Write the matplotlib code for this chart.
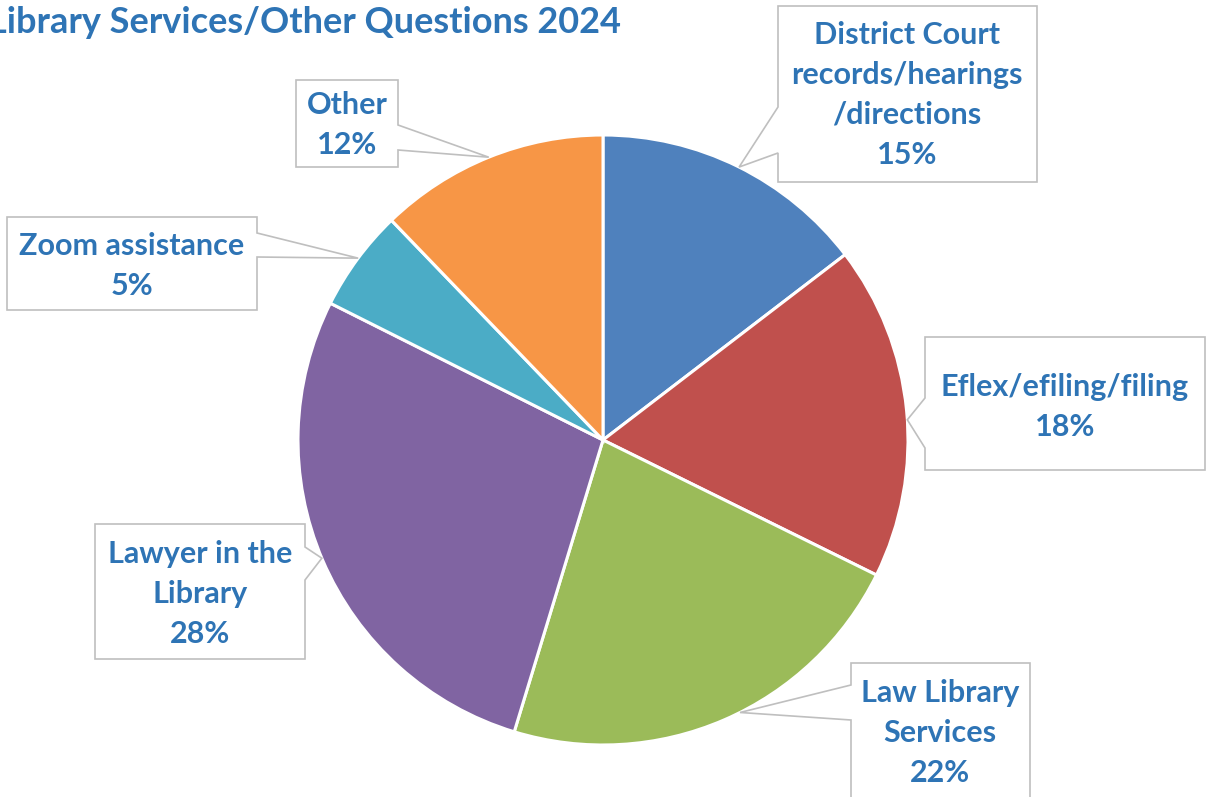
import numpy as np
import matplotlib
matplotlib.use('Agg')
import matplotlib.pyplot as plt
from matplotlib.patches import Polygon

plt.rcParams['font.family'] = ['Lato', 'DejaVu Sans']

# data
categories = ['District Court\nrecords/hearings\n/directions', 'Eflex/efiling/filing',
              'Law Library\nServices', 'Lawyer in the\nLibrary', 'Zoom assistance', 'Other']
values = [14.6, 17.7, 22.4, 27.7, 5.4, 12.2]
colors = ['#4F81BD', '#C0504D', '#9BBB59', '#8064A2', '#4BACC6', '#F79646']
title = 'Library Services/Other Questions 2024'

W, H = 1206, 797
cx, cy, R = 603, 440, 305   # image coords (y down)
txtcol = '#2E74B5'

# callout layout: box (x0, y0, x1, y1), side, pointer base (ya, yb), tip angle, text centre
callouts = [
    ((778, 6, 1037, 182), 'left', (107, 153), 63.5, (907, 95)),
    ((925, 337, 1205, 470), 'left', (398, 448), 3.8, (1065, 407)),
    ((851, 663, 1030, 815), 'left', (685, 720), -63.3, (940, 733)),
    ((95, 524, 305, 659), 'right', (547, 580), 202.8, (200, 594)),
    ((7, 217, 257, 310), 'right', (233, 257), 143.4, (132, 266)),
    ((296, 80, 398, 167), 'right', (125, 150), 112.0, (347, 125)),
]

def fy(y):
    return H - y

fig = plt.figure(figsize=(W / 100, H / 100), dpi=100)
ax = fig.add_axes([0, 0, 1, 1])
ax.pie(values, colors=colors, startangle=90, counterclock=False,
       center=(cx, fy(cy)), radius=R,
       wedgeprops=dict(edgecolor='white', linewidth=2.2))
ax.set_xlim(0, W)
ax.set_ylim(0, H)
ax.set_aspect('auto')
ax.axis('off')

total = sum(values)
for i, (box, side, base, ang, tc) in enumerate(callouts):
    x0, y0, x1, y1 = box
    ya, yb = base
    a = np.radians(ang)
    tip = (cx + R * np.cos(a), cy - R * np.sin(a))
    if side == 'left':
        pts = [(x0, y0), (x1, y0), (x1, y1), (x0, y1), (x0, yb), tip, (x0, ya)]
    else:
        pts = [(x0, y0), (x1, y0), (x1, ya), tip, (x1, yb), (x1, y1), (x0, y1)]
    pts = [(p[0], fy(p[1])) for p in pts]
    ax.add_patch(Polygon(pts, closed=True, facecolor='white', edgecolor='#BFBFBF',
                         linewidth=1.2, zorder=3))
    pct = round(values[i] / total * 100)
    ax.text(tc[0], fy(tc[1]), categories[i] + '\n' + f'{pct}%', ha='center', va='center',
            fontsize=22, fontweight='bold', color=txtcol, linespacing=1.52, zorder=4)

ax.text(621, fy(22), title, ha='right', va='center', fontsize=26,
        fontweight='bold', color=txtcol)

fig.savefig('out.png', dpi=100)
